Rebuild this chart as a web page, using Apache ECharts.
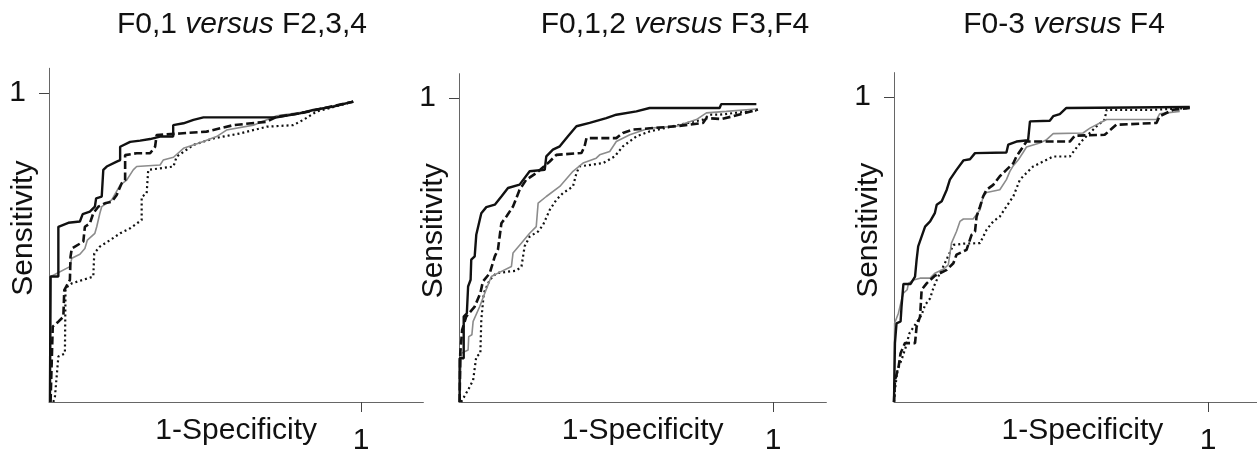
<!DOCTYPE html>
<html>
<head>
<meta charset="utf-8">
<script src="https://cdn.jsdelivr.net/npm/echarts@6/dist/echarts.min.js"></script>
<style>
html,body{margin:0;padding:0;background:#fff;}
#main{width:1257px;height:450px;}
</style>
</head>
<body>
<div id="main"></div>
<script>
// ---- Data (ROC curves: [1-specificity, sensitivity]) ----
const panelTitles = [
  ['F0,1 ', 'versus', ' F2,3,4'],
  ['F0,1,2 ', 'versus', ' F3,F4'],
  ['F0-3 ', 'versus', ' F4']
];
const xAxisName = '1-Specificity';
const yAxisName = 'Sensitivity';
const tickValues = [1];

const p1Solid = [[0.003,0],[0.005,0.406],[0.030,0.406],[0.030,0.567],[0.062,0.580],[0.099,0.584],[0.108,0.608],[0.131,0.616],[0.147,0.632],[0.151,0.659],[0.169,0.665],[0.174,0.751],[0.185,0.762],[0.217,0.778],[0.228,0.783],[0.228,0.826],[0.260,0.842],[0.292,0.846],[0.324,0.851],[0.356,0.859],[0.398,0.859],[0.398,0.896],[0.431,0.902],[0.463,0.913],[0.495,0.921],[0.730,0.921],[0.804,0.934],[0.847,0.945],[0.911,0.956],[0.975,0.972]];
const p1Dashed = [[0.005,0],[0.012,0.244],[0.030,0.260],[0.046,0.276],[0.049,0.362],[0.067,0.395],[0.069,0.470],[0.073,0.497],[0.110,0.519],[0.115,0.567],[0.131,0.578],[0.142,0.611],[0.158,0.632],[0.179,0.643],[0.201,0.648],[0.217,0.670],[0.233,0.708],[0.244,0.718],[0.244,0.799],[0.281,0.805],[0.324,0.805],[0.340,0.826],[0.345,0.864],[0.420,0.869],[0.505,0.875],[0.591,0.896],[0.698,0.907],[0.730,0.923],[0.804,0.934],[0.975,0.972]];
const p1Grey = [[0.003,0],[0.006,0.406],[0.067,0.438],[0.073,0.465],[0.099,0.478],[0.115,0.497],[0.123,0.524],[0.147,0.546],[0.153,0.567],[0.163,0.611],[0.169,0.632],[0.201,0.654],[0.228,0.702],[0.249,0.718],[0.270,0.751],[0.281,0.762],[0.356,0.767],[0.366,0.783],[0.399,0.792],[0.431,0.821],[0.484,0.839],[0.537,0.859],[0.569,0.880],[0.655,0.896],[0.730,0.926],[0.826,0.940],[0.975,0.972]];
const p1Dotted = [[0.014,0],[0.019,0.017],[0.030,0.147],[0.051,0.157],[0.053,0.368],[0.073,0.384],[0.142,0.406],[0.145,0.481],[0.163,0.503],[0.196,0.524],[0.228,0.546],[0.260,0.562],[0.297,0.589],[0.297,0.664],[0.313,0.675],[0.318,0.751],[0.399,0.762],[0.409,0.794],[0.463,0.832],[0.527,0.853],[0.612,0.869],[0.698,0.891],[0.783,0.896],[0.815,0.913],[0.858,0.940],[0.975,0.972]];

const p2Solid = [[0.002,0],[0.002,0.144],[0.015,0.144],[0.015,0.281],[0.025,0.292],[0.029,0.380],[0.037,0.402],[0.039,0.468],[0.050,0.479],[0.055,0.550],[0.071,0.621],[0.087,0.641],[0.114,0.649],[0.135,0.676],[0.156,0.704],[0.193,0.715],[0.225,0.759],[0.273,0.764],[0.278,0.808],[0.299,0.830],[0.321,0.841],[0.347,0.874],[0.374,0.907],[0.416,0.918],[0.469,0.934],[0.501,0.945],[0.565,0.956],[0.607,0.967],[0.830,0.967],[0.835,0.980],[0.947,0.980]];
const p2Dashed = [[0.002,0],[0.004,0.160],[0.010,0.237],[0.023,0.281],[0.050,0.314],[0.068,0.358],[0.076,0.396],[0.098,0.424],[0.114,0.479],[0.124,0.501],[0.135,0.588],[0.151,0.610],[0.172,0.643],[0.193,0.698],[0.214,0.731],[0.246,0.753],[0.289,0.791],[0.310,0.813],[0.390,0.819],[0.400,0.841],[0.406,0.868],[0.501,0.868],[0.522,0.885],[0.554,0.896],[0.692,0.907],[0.777,0.918],[0.788,0.934],[0.835,0.931],[0.873,0.940],[0.952,0.962]];
const p2Grey = [[0.002,0],[0.007,0.160],[0.029,0.171],[0.031,0.215],[0.041,0.221],[0.045,0.265],[0.066,0.314],[0.082,0.358],[0.103,0.413],[0.124,0.424],[0.167,0.446],[0.172,0.490],[0.199,0.523],[0.225,0.555],[0.246,0.577],[0.252,0.654],[0.278,0.676],[0.321,0.709],[0.363,0.759],[0.395,0.786],[0.437,0.802],[0.448,0.813],[0.480,0.824],[0.501,0.857],[0.544,0.879],[0.607,0.901],[0.692,0.907],[0.756,0.929],[0.788,0.951],[0.851,0.956],[0.947,0.964]];
const p2Dotted = [[0.007,0],[0.029,0.040],[0.045,0.072],[0.055,0.149],[0.068,0.160],[0.071,0.270],[0.079,0.358],[0.098,0.402],[0.119,0.424],[0.183,0.432],[0.199,0.446],[0.209,0.512],[0.225,0.544],[0.252,0.561],[0.268,0.583],[0.289,0.632],[0.310,0.665],[0.331,0.687],[0.363,0.709],[0.374,0.753],[0.384,0.775],[0.459,0.786],[0.496,0.808],[0.522,0.841],[0.565,0.874],[0.607,0.890],[0.703,0.912],[0.777,0.929],[0.798,0.945],[0.830,0.945],[0.947,0.959]];

const p3Solid = [[0,0],[0.003,0.193],[0.008,0.258],[0.021,0.264],[0.024,0.313],[0.030,0.387],[0.053,0.387],[0.067,0.411],[0.072,0.466],[0.077,0.510],[0.099,0.575],[0.115,0.592],[0.130,0.619],[0.136,0.647],[0.152,0.658],[0.168,0.696],[0.178,0.729],[0.199,0.761],[0.221,0.792],[0.242,0.796],[0.258,0.816],[0.358,0.818],[0.364,0.844],[0.390,0.854],[0.427,0.858],[0.433,0.920],[0.496,0.922],[0.507,0.937],[0.528,0.944],[0.549,0.964],[0.942,0.967]];
const p3Dashed = [[0,0],[0.003,0.072],[0.014,0.111],[0.021,0.160],[0.035,0.193],[0.067,0.193],[0.072,0.247],[0.083,0.280],[0.088,0.368],[0.104,0.389],[0.130,0.414],[0.168,0.433],[0.189,0.455],[0.199,0.483],[0.231,0.499],[0.247,0.548],[0.258,0.559],[0.263,0.608],[0.274,0.641],[0.284,0.674],[0.295,0.696],[0.316,0.712],[0.337,0.740],[0.358,0.761],[0.380,0.783],[0.390,0.805],[0.422,0.854],[0.560,0.854],[0.576,0.873],[0.671,0.876],[0.708,0.909],[0.836,0.915],[0.846,0.937],[0.889,0.958],[0.942,0.964]];
const p3Grey = [[0,0],[0.002,0.258],[0.014,0.291],[0.024,0.335],[0.030,0.357],[0.042,0.368],[0.046,0.389],[0.062,0.400],[0.083,0.406],[0.115,0.406],[0.130,0.422],[0.157,0.435],[0.173,0.450],[0.183,0.521],[0.199,0.559],[0.210,0.592],[0.221,0.600],[0.252,0.600],[0.274,0.630],[0.284,0.674],[0.295,0.687],[0.337,0.696],[0.358,0.729],[0.369,0.756],[0.380,0.775],[0.396,0.794],[0.411,0.818],[0.422,0.836],[0.464,0.849],[0.486,0.860],[0.507,0.880],[0.602,0.882],[0.624,0.898],[0.677,0.926],[0.836,0.926],[0.846,0.945],[0.910,0.953]];
const p3Dotted = [[0,0],[0.003,0.039],[0.011,0.105],[0.024,0.138],[0.038,0.182],[0.049,0.225],[0.067,0.253],[0.088,0.286],[0.099,0.318],[0.115,0.340],[0.127,0.379],[0.141,0.411],[0.162,0.455],[0.189,0.515],[0.221,0.519],[0.274,0.521],[0.295,0.565],[0.316,0.592],[0.337,0.608],[0.358,0.641],[0.380,0.674],[0.401,0.729],[0.422,0.751],[0.443,0.772],[0.486,0.794],[0.507,0.805],[0.560,0.805],[0.576,0.827],[0.602,0.860],[0.645,0.904],[0.671,0.926],[0.677,0.958],[0.825,0.958],[0.942,0.964]];

const panelData = [
  {dotted: p1Dotted, grey: p1Grey, dashed: p1Dashed, solid: p1Solid},
  {dotted: p2Dotted, grey: p2Grey, dashed: p2Dashed, solid: p2Solid},
  {dotted: p3Dotted, grey: p3Grey, dashed: p3Dashed, solid: p3Solid}
];

// ---- Layout ----
const FONT = '"Liberation Sans", Arial, Helvetica, sans-serif';
const FS = 30;
const Y_MAX = 1.08;
const layout = [
  {x0: 49,  xs: 312, y0: 402, ys: 309, xMax: 1.2,  titleX: 237},
  {x0: 459, xs: 314, y0: 402, ys: 304, xMax: 1.17, titleX: 670},
  {x0: 894, xs: 314, y0: 402, ys: 305, xMax: 1.2,  titleX: 1059}
];

const grids = [], xAxes = [], yAxes = [], series = [], titles = [];
const styles = {
  dotted: {color: '#111', width: 2.2, type: [2, 3]},
  grey:   {color: '#8c8c8c', width: 1.6, type: 'solid'},
  dashed: {color: '#111', width: 2.6, type: [8, 3.5]},
  solid:  {color: '#111', width: 2.4, type: 'solid'}
};

layout.forEach((L, i) => {
  grids.push({
    left: L.x0, top: L.y0 - Y_MAX * L.ys,
    width: L.xMax * L.xs, height: Y_MAX * L.ys,
    containLabel: false, outerBoundsMode: 'none'
  });
  xAxes.push({
    type: 'value', gridIndex: i, min: 0, max: L.xMax,
    axisLine: {show: true, onZero: false, lineStyle: {color: '#666', width: 1}},
    axisTick: {show: true, customValues: tickValues, length: 10, lineStyle: {color: '#444', width: 1}},
    axisLabel: {show: true, customValues: tickValues, fontSize: FS, fontFamily: FONT, color: '#111', margin: 24,
      formatter: v => String(v)},
    splitLine: {show: false},
    name: xAxisName, nameLocation: 'middle', nameGap: 14, nameMoveOverlap: false,
    nameTextStyle: {fontSize: FS, fontFamily: FONT, color: '#111'}
  });
  yAxes.push({
    type: 'value', gridIndex: i, min: 0, max: Y_MAX,
    axisLine: {show: true, onZero: false, lineStyle: {color: '#666', width: 1}},
    axisTick: {show: true, customValues: tickValues, length: 10, lineStyle: {color: '#444', width: 1}},
    axisLabel: {show: true, customValues: tickValues, fontSize: FS, fontFamily: FONT, color: '#111', margin: 23,
      formatter: v => String(v)},
    splitLine: {show: false},
    name: yAxisName, nameLocation: 'middle', nameGap: 10, nameRotate: 90, nameMoveOverlap: false,
    nameTextStyle: {fontSize: FS, fontFamily: FONT, color: '#111', padding: [0, 0, 0, 14]}
  });
  ['dotted', 'grey', 'dashed', 'solid'].forEach(k => {
    series.push({
      type: 'line', xAxisIndex: i, yAxisIndex: i,
      data: panelData[i][k], showSymbol: false, symbol: 'none',
      lineStyle: styles[k], animation: false, silent: true, z: k === 'solid' ? 5 : 3
    });
  });
  const t = panelTitles[i];
  titles.push({
    left: L.titleX, top: 5, textAlign: 'center',
    text: '{n|' + t[0] + '}{i|' + t[1] + '}{n|' + t[2] + '}',
    textStyle: {
      fontWeight: 'normal',
      rich: {
        n: {fontSize: FS, fontFamily: FONT, color: '#111', fontWeight: 'normal'},
        i: {fontSize: FS, fontFamily: FONT, color: '#111', fontStyle: 'italic', fontWeight: 'normal'}
      }
    }
  });
});

const chart = echarts.init(document.getElementById('main'), null, {renderer: 'canvas'});
chart.setOption({
  animation: false,
  backgroundColor: '#fff',
  title: titles,
  grid: grids,
  xAxis: xAxes,
  yAxis: yAxes,
  series: series
});
</script>
</body>
</html>
